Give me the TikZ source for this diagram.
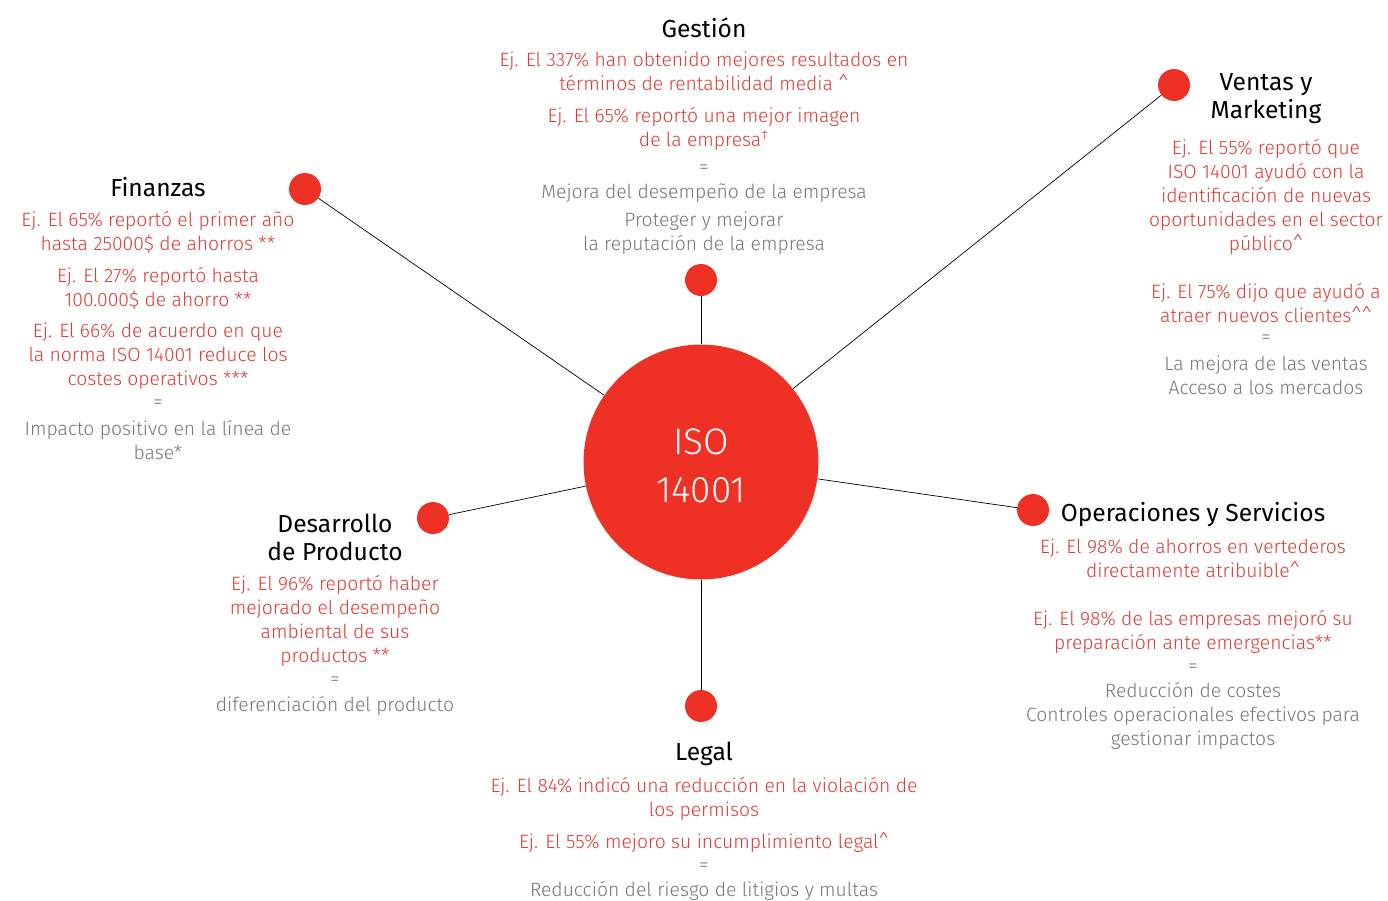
\documentclass[tikz,border=0pt]{standalone}
\usepackage{fontspec}
\setmainfont{Fira Sans}
\newfontfamily\lightfont{Fira Sans Light}
\usepackage{xcolor}
\usetikzlibrary{positioning}
\definecolor{isored}{RGB}{238,49,36}
\definecolor{factred}{RGB}{222,58,52}
\definecolor{gaingray}{RGB}{118,118,118}
\tikzset{
    tnode/.style = {align=center, inner sep=0pt},
    hub_node/.style = {tnode, circle, fill=isored, minimum size=4.7cm},
    hub_label/.style = {tnode, text=white, yshift=-0.08cm, font=\lightfont\fontsize{21}{27}\selectfont},
    dot_node/.style = {circle, fill=isored, minimum size=0.64cm, inner sep=0pt},
    title_text/.style = {tnode, black, font=\fontsize{14}{16}\selectfont},
    fact_text/.style = {tnode, factred, font=\lightfont\fontsize{11}{13.66}\selectfont},
    gain_text/.style = {tnode, gaingray, font=\lightfont\fontsize{11}{13.66}\selectfont}
}
\begin{document}
\begin{tikzpicture}[x=0.02cm, y=-0.02cm, spoke/.style={draw=black, thin}]
    \useasboundingbox (0,0) rectangle (1388,900);

    % hub and dots
    \node [hub_node, label={[hub_label]center:ISO\\14001}] (iso) at (701,462) {};
    \node [dot_node] (gestion_dot) at (701,280) {};
    \node [dot_node] (ventas_dot) at (1174,85) {};
    \node [dot_node] (finanzas_dot) at (305,189) {};
    \node [dot_node] (operaciones_dot) at (1033,510) {};
    \node [dot_node] (desarrollo_dot) at (433,518) {};
    \node [dot_node] (legal_dot) at (701,706) {};

    \foreach \d in {gestion, ventas, finanzas, operaciones, desarrollo, legal}
        \draw [spoke] (iso) -- (\d_dot);

    % Gestion
    \node [title_text] (gestion) at (704,28) {Gestión};
    \node [fact_text] (gestion_ej) at (704,101) {Ej. El 337\% han obtenido mejores resultados en\\términos de rentabilidad media \^{}\\[4.5pt]Ej. El 65\% reportó una mejor imagen\\de la empresa\textsuperscript{\dag}};
    \node [gain_text] (gestion_eq) at (704,169) {=};
    \node [gain_text] (gestion_res) at (704,219) {Mejora del desempeño de la empresa\\[2.3pt]Proteger y mejorar\\la reputación de la empresa};

    % Ventas y Marketing
    \node [title_text] (ventas) at (1266,99) {Ventas y\\Marketing};
    \node [fact_text] (ventas_ej) at (1266,231) {Ej. El 55\% reportó que\\ISO 14001 ayudó con la\\identificación de nuevas\\oportunidades en el sector\\público\^{}\\[13.66pt]Ej. El 75\% dijo que ayudó a\\atraer nuevos clientes\^{}\^{}};
    \node [gain_text] (ventas_eq) at (1266,339) {=};
    \node [gain_text] (ventas_res) at (1266,375) {La mejora de las ventas\\Acceso a los mercados};

    % Finanzas
    \node [title_text] (finanzas) at (158,187) {Finanzas};
    \node [fact_text] (finanzas_ej) at (158,300.5) {Ej. El 65\% reportó el primer año\\hasta 25000\$ de ahorros **\\[4.5pt]Ej. El 27\% reportó hasta\\100.000\$ de ahorro **\\[4pt]Ej. El 66\% de acuerdo en que\\la norma ISO 14001 reduce los\\costes operativos ***};
    \node [gain_text] (finanzas_eq) at (158,404) {=};
    \node [gain_text] (finanzas_res) at (158,440) {Impacto positivo en la línea de\\base*};

    % Operaciones y Servicios
    \node [title_text] (operaciones) at (1193,515) {Operaciones y Servicios};
    \node [fact_text] (operaciones_ej) at (1193,596) {Ej. El 98\% de ahorros en vertederos\\directamente atribuible\^{}\\[13.66pt]Ej. El 98\% de las empresas mejoró su\\preparación ante emergencias**};
    \node [gain_text] (operaciones_eq) at (1193,668) {=};
    \node [gain_text] (operaciones_res) at (1193,716) {Reducción de costes\\Controles operacionales efectivos para\\gestionar impactos};

    % Desarrollo de Producto
    \node [title_text] (desarrollo) at (335,537.5) {Desarrollo\\de Producto};
    \node [fact_text] (desarrollo_ej) at (335,621) {Ej. El 96\% reportó haber\\mejorado el desempeño\\ambiental de sus\\productos **};
    \node [gain_text] (desarrollo_eq) at (335,681) {=};
    \node [gain_text] (desarrollo_res) at (335,706) {diferenciación del producto};

    % Legal
    \node [title_text] (legal) at (704,754) {Legal};
    \node [fact_text] (legal_ej) at (704,815) {Ej. El 84\% indicó una reducción en la violación de\\los permisos\\[4.5pt]Ej. El 55\% mejoro su incumplimiento legal\^{}};
    \node [gain_text] (legal_eq) at (704,867) {=};
    \node [gain_text] (legal_res) at (704,891) {Reducción del riesgo de litigios y multas};
\end{tikzpicture}
\end{document}
